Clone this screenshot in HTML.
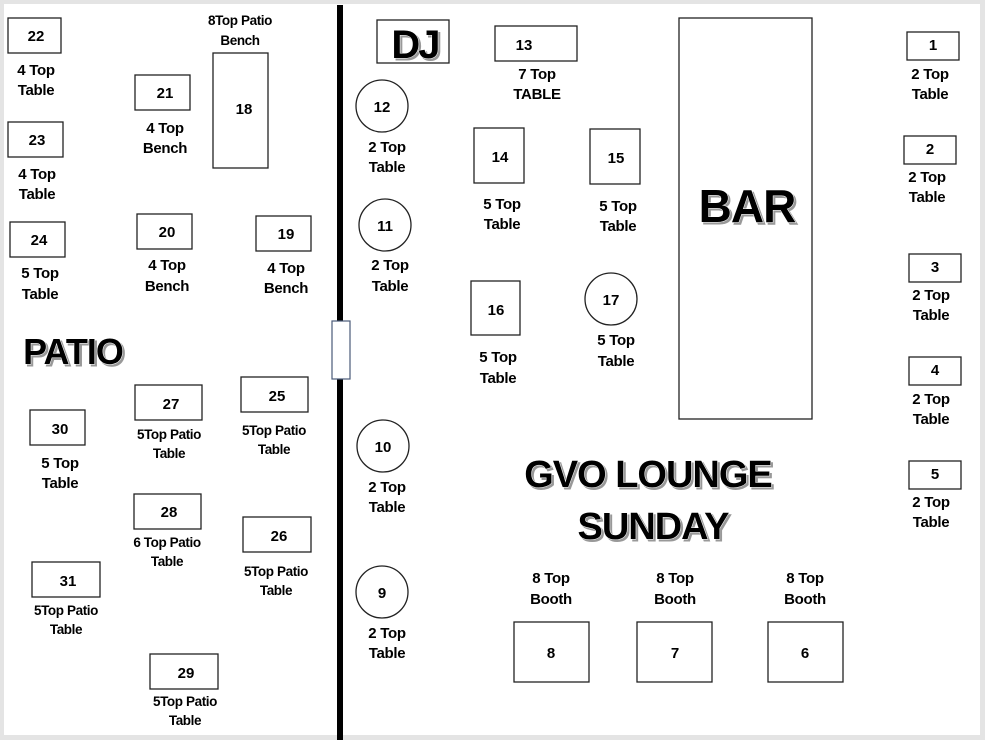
<!DOCTYPE html>
<html><head><meta charset="utf-8"><style>
html,body{margin:0;padding:0;background:#e6e6e6;}
svg{display:block}
text{font-family:"Liberation Sans",sans-serif;font-weight:bold;fill:#000;text-anchor:middle;}
.l{font-size:15px;letter-spacing:-0.3px}
.s{font-size:13.5px;letter-spacing:-0.4px}
.n{font-size:15px}
.big{paint-order:stroke;stroke:#fff;stroke-width:1px;filter:drop-shadow(2px 2px 0 #999);}
rect.t,circle.t{fill:#fff;stroke:#222;stroke-width:1.3}
</style></head><body>
<svg width="985" height="740" viewBox="0 0 985 740" xmlns="http://www.w3.org/2000/svg">
<rect x="0" y="0" width="985" height="740" fill="#e4e4e4"/>
<rect x="4" y="4" width="976" height="731" fill="#fff"/>
<rect x="337" y="5" width="6" height="735" fill="#000"/>
<rect x="332" y="321" width="18" height="58" fill="#fff" stroke="#4a5a78" stroke-width="1.2"/>

<!-- left side -->
<rect class="t" x="8" y="18" width="53" height="35"/><text class="n" x="36" y="41">22</text>
<text class="l" x="36" y="75">4 Top</text><text class="l" x="36" y="95">Table</text>
<rect class="t" x="8" y="122" width="55" height="35"/><text class="n" x="37" y="145">23</text>
<text class="l" x="37" y="179">4 Top</text><text class="l" x="37" y="199">Table</text>
<rect class="t" x="10" y="222" width="55" height="35"/><text class="n" x="39" y="245">24</text>
<text class="l" x="40" y="278">5 Top</text><text class="l" x="40" y="299">Table</text>
<rect class="t" x="135" y="75" width="55" height="35"/><text class="n" x="165" y="98">21</text>
<text class="l" x="165" y="133">4 Top</text><text class="l" x="165" y="153">Bench</text>
<text class="s" x="240" y="25">8Top Patio</text><text class="s" x="240" y="45">Bench</text>
<rect class="t" x="213" y="53" width="55" height="115"/><text class="n" x="244" y="114">18</text>
<rect class="t" x="137" y="214" width="55" height="35"/><text class="n" x="167" y="237">20</text>
<text class="l" x="167" y="270">4 Top</text><text class="l" x="167" y="291">Bench</text>
<rect class="t" x="256" y="216" width="55" height="35"/><text class="n" x="286" y="239">19</text>
<text class="l" x="286" y="273">4 Top</text><text class="l" x="286" y="293">Bench</text>
<text class="big" x="73" y="364" style="font-size:36px;letter-spacing:-1px">PATIO</text>
<rect class="t" x="135" y="385" width="67" height="35"/><text class="n" x="171" y="409">27</text>
<text class="s" x="169" y="439">5Top Patio</text><text class="s" x="169" y="458">Table</text>
<rect class="t" x="241" y="377" width="67" height="35"/><text class="n" x="277" y="401">25</text>
<text class="s" x="274" y="435">5Top Patio</text><text class="s" x="274" y="454">Table</text>
<rect class="t" x="30" y="410" width="55" height="35"/><text class="n" x="60" y="434">30</text>
<text class="l" x="60" y="468">5 Top</text><text class="l" x="60" y="488">Table</text>
<rect class="t" x="134" y="494" width="67" height="35"/><text class="n" x="169" y="517">28</text>
<text class="s" x="167" y="547">6 Top Patio</text><text class="s" x="167" y="566">Table</text>
<rect class="t" x="243" y="517" width="68" height="35"/><text class="n" x="279" y="541">26</text>
<text class="s" x="276" y="576">5Top Patio</text><text class="s" x="276" y="595">Table</text>
<rect class="t" x="32" y="562" width="68" height="35"/><text class="n" x="68" y="586">31</text>
<text class="s" x="66" y="615">5Top Patio</text><text class="s" x="66" y="634">Table</text>
<rect class="t" x="150" y="654" width="68" height="35"/><text class="n" x="186" y="678">29</text>
<text class="s" x="185" y="706">5Top Patio</text><text class="s" x="185" y="725">Table</text>

<!-- right side -->
<rect class="t" x="377" y="20" width="72" height="43"/>
<text class="big" x="415" y="58" style="font-size:40px;letter-spacing:-2px">DJ</text>
<circle class="t" cx="382" cy="106" r="26"/><text class="n" x="382" y="112">12</text>
<text class="l" x="387" y="152">2 Top</text><text class="l" x="387" y="172">Table</text>
<circle class="t" cx="385" cy="225" r="26"/><text class="n" x="385" y="231">11</text>
<text class="l" x="390" y="270">2 Top</text><text class="l" x="390" y="291">Table</text>
<circle class="t" cx="383" cy="446" r="26"/><text class="n" x="383" y="452">10</text>
<text class="l" x="387" y="492">2 Top</text><text class="l" x="387" y="512">Table</text>
<circle class="t" cx="382" cy="592" r="26"/><text class="n" x="382" y="598">9</text>
<text class="l" x="387" y="638">2 Top</text><text class="l" x="387" y="658">Table</text>
<rect class="t" x="495" y="26" width="82" height="35"/><text class="n" x="524" y="50">13</text>
<text class="l" x="537" y="79">7 Top</text><text class="l" x="537" y="99">TABLE</text>
<rect class="t" x="474" y="128" width="50" height="55"/><text class="n" x="500" y="162">14</text>
<text class="l" x="502" y="209">5 Top</text><text class="l" x="502" y="229">Table</text>
<rect class="t" x="590" y="129" width="50" height="55"/><text class="n" x="616" y="163">15</text>
<text class="l" x="618" y="211">5 Top</text><text class="l" x="618" y="231">Table</text>
<rect class="t" x="471" y="281" width="49" height="54"/><text class="n" x="496" y="315">16</text>
<text class="l" x="498" y="362">5 Top</text><text class="l" x="498" y="383">Table</text>
<circle class="t" cx="611" cy="299" r="26"/><text class="n" x="611" y="305">17</text>
<text class="l" x="616" y="345">5 Top</text><text class="l" x="616" y="366">Table</text>
<rect class="t" x="679" y="18" width="133" height="401"/>
<text class="big" x="747" y="222" style="font-size:46px;letter-spacing:-1px">BAR</text>

<rect class="t" x="907" y="32" width="52" height="28"/><text class="n" x="933" y="50">1</text>
<text class="l" x="930" y="79">2 Top</text><text class="l" x="930" y="99">Table</text>
<rect class="t" x="904" y="136" width="52" height="28"/><text class="n" x="930" y="154">2</text>
<text class="l" x="927" y="182">2 Top</text><text class="l" x="927" y="202">Table</text>
<rect class="t" x="909" y="254" width="52" height="28"/><text class="n" x="935" y="272">3</text>
<text class="l" x="931" y="300">2 Top</text><text class="l" x="931" y="320">Table</text>
<rect class="t" x="909" y="357" width="52" height="28"/><text class="n" x="935" y="375">4</text>
<text class="l" x="931" y="404">2 Top</text><text class="l" x="931" y="424">Table</text>
<rect class="t" x="909" y="461" width="52" height="28"/><text class="n" x="935" y="479">5</text>
<text class="l" x="931" y="507">2 Top</text><text class="l" x="931" y="527">Table</text>

<text class="big" x="648" y="487" style="font-size:38px;letter-spacing:-1px">GVO LOUNGE</text>
<text class="big" x="653" y="539" style="font-size:38px;letter-spacing:-1px">SUNDAY</text>

<text class="l" x="551" y="583">8 Top</text><text class="l" x="551" y="604">Booth</text>
<text class="l" x="675" y="583">8 Top</text><text class="l" x="675" y="604">Booth</text>
<text class="l" x="805" y="583">8 Top</text><text class="l" x="805" y="604">Booth</text>
<rect class="t" x="514" y="622" width="75" height="60"/><text class="n" x="551" y="658">8</text>
<rect class="t" x="637" y="622" width="75" height="60"/><text class="n" x="675" y="658">7</text>
<rect class="t" x="768" y="622" width="75" height="60"/><text class="n" x="805" y="658">6</text>
</svg>
</body></html>
